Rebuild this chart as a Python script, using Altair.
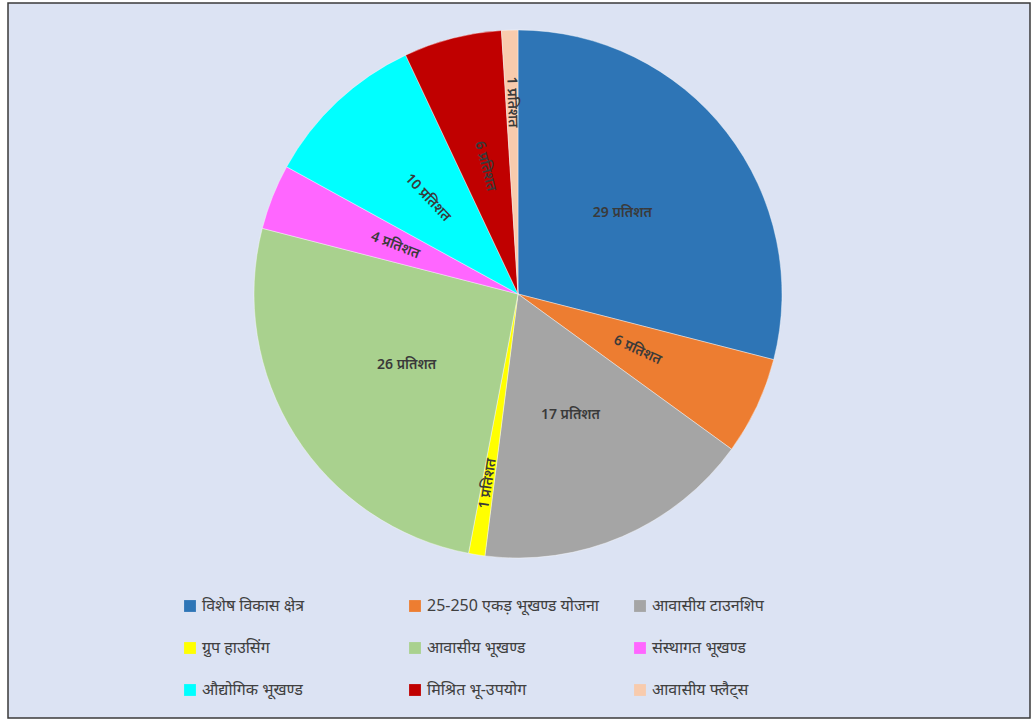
import altair as alt
import pandas as pd

categories = ["विशेष विकास क्षेत्र", "25-250 एकड़ भूखण्ड योजना", "आवासीय टाउनशिप",
              "ग्रुप हाउसिंग", "आवासीय भूखण्ड", "संस्थागत भूखण्ड",
              "औद्योगिक भूखण्ड", "मिश्रित भू-उपयोग", "आवासीय फ्लैट्स"]
values = [29, 6, 17, 1, 26, 4, 10, 6, 1]
colors = ["#2e75b6", "#ed7d31", "#a5a5a5", "#ffff00", "#a9d18e",
          "#ff66ff", "#00ffff", "#c00000", "#f8cbad"]

df = pd.DataFrame({"cat": categories, "val": values, "idx": list(range(len(values)))})
df["label"] = [f"{v} प्रतिशत" for v in values]

CX, CY, R = 518, 294, 264
FONT = "Noto Sans"

frame = alt.Chart(pd.DataFrame({"a": [0]})).mark_rect(
    fill="#dce3f3", stroke="#3a3a3a", strokeWidth=1.5
).encode(x=alt.value(8), x2=alt.value(1030), y=alt.value(3), y2=alt.value(718))

color = alt.Color("cat:N", scale=alt.Scale(domain=categories, range=colors),
                  sort=categories,
                  legend=alt.Legend(orient="none", legendX=182, legendY=598, columns=3,
                                    direction="horizontal",
                                    title=None, symbolType="square", symbolSize=140,
                                    symbolStrokeWidth=0, labelFontSize=16, labelFont=FONT,
                                    labelColor="#404040", gridAlign="all",
                                    columnPadding=33, rowPadding=26, labelLimit=400,
                                    symbolOffset=0, labelOffset=4))

pie = alt.Chart(df).mark_arc(outerRadius=R, stroke="#ffffff", strokeWidth=0.4).encode(
    theta=alt.Theta("val:Q", stack=True),
    order=alt.Order("idx:Q"),
    color=color,
    x=alt.value(CX), y=alt.value(CY),
)

labels = alt.Chart(df).transform_joinaggregate(
    total="sum(val)"
).transform_window(
    cum="sum(val)", sort=[alt.SortField("idx")]
).transform_calculate(
    mid="(datum.cum - datum.val/2) / datum.total * 2 * PI",
    r="datum.val <= 1 ? 192 : 132",
).transform_calculate(
    lx=f"{CX} + datum.r * sin(datum.mid)",
    ly=f"{CY} - datum.r * cos(datum.mid)",
    middeg="datum.mid * 180 / PI",
).transform_calculate(
    ang="datum.val >= 15 ? 0 : (datum.middeg < 180 ? (datum.middeg + 270) % 360 : (datum.middeg + 90) % 360)"
).mark_text(fontSize=14, fontWeight=600, font=FONT, color="#3a3a3a",
            align="center", baseline="middle").encode(
    x=alt.X("lx:Q", scale=None, axis=None),
    y=alt.Y("ly:Q", scale=None, axis=None),
    angle=alt.Angle("ang:Q", scale=None),
    text="label:N",
)

chart = alt.layer(frame, pie, labels).properties(
    width=1035, height=722, autosize=alt.AutoSizeParams(type="none"), padding=0,
    background="white"
).configure_view(stroke=None)

chart.save("out.html", embed_options={"renderer": "svg", "actions": False})
